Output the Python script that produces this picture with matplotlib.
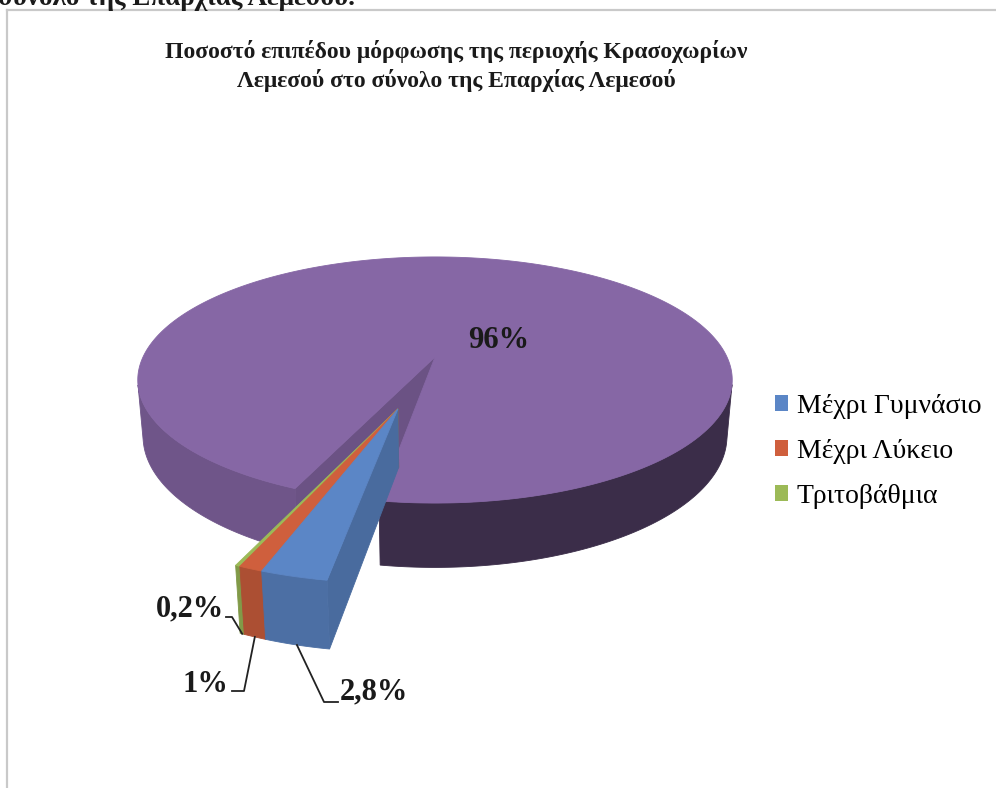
import numpy as np
import matplotlib.pyplot as plt
from matplotlib.patches import Polygon, Patch

# data: education level share (3D exploded pie, order = drawing order clockwise)
labels = ['Μέχρι Γυμνάσιο', 'Μέχρι Λύκειο', 'Τριτοβάθμια', '']
values = [2.8, 1.0, 0.2, 96.0]
value_labels = ['2,8%', '1%', '0,2%', '96%']
colors = ['#5b86c6', '#cf5f3d', '#9cba57', '#8667a5']
explode = [0.42, 0.42, 0.42, 0.0]

title = ('Ποσοστό επιπέδου μόρφωσης της περιοχής Κρασοχωρίων\n'
         'Λεμεσού στο σύνολο της Επαρχίας Λεμεσού')
caption = 'σύνολο της Επαρχίας Λεμεσού.'

serif = ['Liberation Serif', 'DejaVu Serif']

# view / projection settings (pixels)
W, H = 996, 788
cx, cy = 435, 357
S = 292
elev = np.radians(24)
D = 4.89
thick = 0.21
start_angle = 261.0

cam = np.array([0.0, -D * np.cos(elev), D * np.sin(elev)])


def proj(p):
    p = np.atleast_2d(p)
    x, y, z = p[:, 0], p[:, 1], p[:, 2]
    v = y * np.sin(elev) + z * np.cos(elev)
    w = y * np.cos(elev) - z * np.sin(elev)
    k = D / (D + w)
    return np.column_stack([cx + S * x * k, cy - S * v * k])


def rim(a, z=0.0):
    a = np.radians(a)
    return np.array([np.cos(a), np.sin(a), z])


def visible(n, p):
    return np.dot(n, cam - p) > 0


def shade(col, f):
    c = np.array(plt.matplotlib.colors.to_rgb(col))
    return tuple(np.clip(c * f, 0, 1))


def face(ax, pts, col):
    ax.add_patch(Polygon(proj(np.array(pts)), closed=True, fc=col, ec=col, lw=0.6))


def draw_slice(ax, lo, hi, off, col):
    dz = np.array([0, 0, -thick])
    # radial faces
    for a, sgn in ((lo, 1), (hi, -1)):
        r = np.radians(a)
        n = sgn * np.array([np.sin(r), -np.cos(r), 0.0])
        pts = [off, off + rim(a), off + rim(a) + dz, off + dz]
        if visible(n, off + rim(a) * 0.5):
            face(ax, pts, shade(col, 0.8))
    # outer wall, joined into strips of equal shading
    ang = np.linspace(lo, hi, max(int((hi - lo) * 2), 3))
    runs = []
    for a1, a2 in zip(ang[:-1], ang[1:]):
        am = (a1 + a2) / 2
        if not visible(rim(am), off + rim(am)):
            continue
        f = 0.83 if (am % 360) < start_angle else 0.44
        if runs and runs[-1][0] == f and np.isclose(runs[-1][1][-1], a1):
            runs[-1][1].append(a2)
        else:
            runs.append((f, [a1, a2]))
    for f, seg in runs:
        pts = [off + rim(a) for a in seg] + [off + rim(a) + dz for a in seg[::-1]]
        face(ax, pts, shade(col, f))
    # top
    pts = [off] + [off + rim(a) for a in ang]
    face(ax, pts, col)
    # anchor for leader line (bottom of outer face)
    return proj(off + rim((lo + hi) / 2) + dz)[0]


fig = plt.figure(figsize=(W / 100, H / 100), dpi=100)
ax = fig.add_axes([0, 0, 1, 1])
ax.set_xlim(0, W)
ax.set_ylim(H, 0)
ax.axis('off')

# slice angles: clockwise from start_angle
spans = np.array(values) / sum(values) * 360
hi_ang = start_angle - np.concatenate([[0], np.cumsum(spans)[:-1]])
lo_ang = hi_ang - spans

# the small slices are pulled out together, along the middle of their group
small = [i for i in range(len(values)) if explode[i] > 0]
grp_mid = np.radians((hi_ang[small].max() + lo_ang[small].min()) / 2)
grp_dir = np.array([np.cos(grp_mid), np.sin(grp_mid), 0.0])

anchors = {}
# big slice first, then small ones from back to front
for i in [3, 2, 1, 0]:
    anchors[i] = draw_slice(ax, lo_ang[i], hi_ang[i], explode[i] * grp_dir, colors[i])

# frame of the chart area
ax.plot([7, 7], [H, 10], color='#c9c9c9', lw=1.6)
ax.plot([7, W], [10, 10], color='#c9c9c9', lw=1.6)

lab_kw = dict(fontsize=22, fontweight='bold', family=serif, color='#1a1a1a')

# value labels with leader lines
ax.text(499, 340, value_labels[3], ha='center', va='center', **lab_kw)

gx, gy = anchors[2]
ax.text(224, 609, value_labels[2], ha='right', va='center', **lab_kw)
ax.plot([226, 232, gx], [617, 617, gy], color='#222222', lw=1.3)

ox, oy = anchors[1]
ax.text(228, 684, value_labels[1], ha='right', va='center', **lab_kw)
ax.plot([232, 244, ox], [691, 691, oy], color='#222222', lw=1.3)

bx, by = anchors[0]
ax.text(340, 692, value_labels[0], ha='left', va='center', **lab_kw)
ax.plot([338, 324, bx], [702, 702, by], color='#222222', lw=1.3)

fig.text(456 / W, 1 - 66 / H, title, ha='center', va='center', fontsize=17,
         fontweight='bold', family=serif, color='#1a1a1a', linespacing=1.35)

# caption of the document, cut by the top edge
fig.text(-2 / W, 1 - 5 / H, caption, ha='left', va='baseline', fontsize=19.5,
         fontweight='bold', family=serif, color='#1a1a1a')

handles = [Patch(facecolor=colors[i], edgecolor='none') for i in range(3)]
fig.legend(handles, labels[:3], loc='upper left',
           bbox_to_anchor=(775 / W, 1 - 394 / H), frameon=False,
           prop={'family': serif, 'size': 20}, handlelength=0.48, handleheight=0.48,
           handletextpad=0.3, labelspacing=0.72, borderpad=0, borderaxespad=0)

fig.savefig('out.png', dpi=100)
